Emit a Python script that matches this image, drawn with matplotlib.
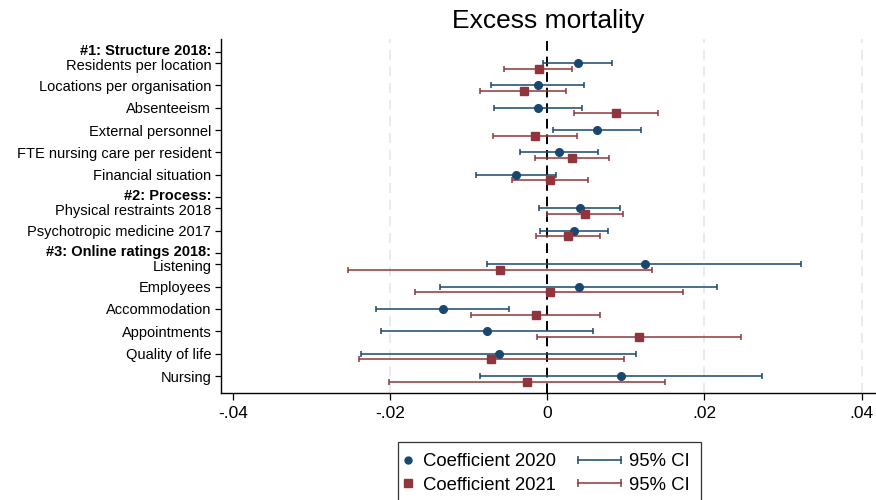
import numpy as np
import matplotlib; matplotlib.use("Agg")
import matplotlib.pyplot as plt
from matplotlib.lines import Line2D
from matplotlib.legend_handler import HandlerLine2D, HandlerBase
from matplotlib.transforms import ScaledTranslation

plt.rcParams["font.family"] = ["Liberation Sans", "DejaVu Sans"]

# --- data ---
GROUPS = ["#1: Structure 2018:", "#2: Process:", "#3: Online ratings 2018:"]
LABELS = [
    ["Residents per location", "Locations per organisation", "Absenteeism",
     "External personnel", "FTE nursing care per resident", "Financial situation"],
    ["Physical restraints 2018", "Psychotropic medicine 2017"],
    ["Listening", "Employees", "Accommodation", "Appointments", "Quality of life", "Nursing"],
]
coef20 = [0.0039, -0.0012, -0.0012, 0.0063, 0.0015, -0.0040,
          0.0042, 0.0034,
          0.0124, 0.0040, -0.0133, -0.0076, -0.0062, 0.0094]
lo20 = [-0.0005, -0.0071, -0.0068, 0.0007, -0.0035, -0.0091,
        -0.0010, -0.0009,
        -0.0076, -0.0136, -0.0218, -0.0211, -0.0237, -0.0085]
hi20 = [0.0083, 0.0047, 0.0044, 0.0119, 0.0065, 0.0011,
        0.0093, 0.0077,
        0.0323, 0.0216, -0.0049, 0.0058, 0.0113, 0.0273]
coef21 = [-0.0011, -0.0030, 0.0088, -0.0015, 0.0032, 0.0004,
          0.0048, 0.0027,
          -0.0060, 0.0003, -0.0014, 0.0117, -0.0071, -0.0026]
lo21 = [-0.0055, -0.0085, 0.0034, -0.0069, -0.0015, -0.0045,
        0.0000, -0.0014,
        -0.0253, -0.0168, -0.0097, -0.0013, -0.0240, -0.0201]
hi21 = [0.0031, 0.0024, 0.0141, 0.0038, 0.0079, 0.0052,
        0.0097, 0.0067,
        0.0133, 0.0173, 0.0067, 0.0247, 0.0098, 0.0150]

BLUE = "#1a476f"; RED = "#90353b"


class CIHandler(HandlerBase):
    """capped horizontal line, stretched to the left of the handle box"""
    def __init__(self, ext=2.0, **kw):
        super().__init__(**kw); self.ext = ext

    def create_artists(self, legend, orig, xd, yd, width, height, fontsize, trans):
        y = height / 2 - yd
        x0, x1 = -xd - self.ext * fontsize, width - xd
        c = orig.get_color()
        ln = Line2D([x0, x1], [y, y], color=c, lw=1.1)
        cp = Line2D([x0, x1], [y, y], color=c, ls="none", marker="|", ms=6, mew=1.1)
        for a in (ln, cp): a.set_transform(trans)
        return [ln, cp]


# row layout: header, then items half a row below, next header one row after last item
ypos, yticks, ylabels, ykind = [], [], [], []
cur = 0.5
for g, labs in zip(GROUPS, LABELS):
    yticks.append(cur); ylabels.append(g); ykind.append("head")
    p = cur + 0.5
    for i, lab in enumerate(labs):
        ypos.append(p); yticks.append(p); ylabels.append(lab)
        ykind.append("first" if i == 0 else "item")
        p += 1
    cur = p
ypos = np.array(ypos)

fig = plt.figure(figsize=(8.76, 5.0), dpi=100)
ax = fig.add_axes([0.2523, 0.214, 0.7466, 0.708])
ax.tick_params(axis="y", length=4, width=0.9, pad=3)
ax.tick_params(axis="x", length=5, width=0.9, pad=4)

for gx in (-0.02, 0.02, 0.04):
    ax.axvline(gx, color="#e6e6e6", lw=1.2, ls=(0, (6, 4)), zorder=0)
ax.axvline(0, color="black", lw=1.4, ls=(0, (5, 3)), zorder=1)

c20, c21 = np.array(coef20), np.array(coef21)
ax.errorbar(c20, ypos, xerr=[c20 - np.array(lo20), np.array(hi20) - c20], fmt="none",
            ecolor=BLUE, elinewidth=1.1, capsize=2.2, capthick=1.1, zorder=2)
ax.errorbar(c21, ypos + 0.25, xerr=[c21 - np.array(lo21), np.array(hi21) - c21], fmt="none",
            ecolor=RED, elinewidth=1.1, capsize=2.2, capthick=1.1, zorder=2)
ax.plot(c20, ypos, "o", color=BLUE, ms=5.5, zorder=3)
ax.plot(c21, ypos + 0.25, "s", color=RED, ms=5.5, zorder=3)

ax.set_xlim(-0.0415, 0.0417)
ax.set_ylim(15.76, -0.07)
ax.set_xticks([-0.04, -0.02, 0, 0.02, 0.04])
ax.set_xticklabels(["-.04", "-.02", "0", ".02", ".04"], fontsize=12.5)
ax.set_yticks(yticks)
ax.set_yticklabels(ylabels, fontsize=10.5)
shift = {"head": 1.6, "first": -1.2, "item": 0}
for t, k in zip(ax.get_yticklabels(), ykind):
    if k == "head":
        t.set_fontweight("bold")
    if shift[k]:
        t.set_transform(t.get_transform() + ScaledTranslation(0, shift[k] / 72, fig.dpi_scale_trans))
for s in ("top", "right"):
    ax.spines[s].set_visible(False)
for s in ("left", "bottom"):
    ax.spines[s].set_linewidth(1.0)

fig.text(0.6256, 0.958, "Excess mortality", ha="center", va="center", fontsize=19)

h_b = Line2D([], [], color=BLUE, marker="o", ls="none", ms=5)
h_r = Line2D([], [], color=RED, marker="s", ls="none", ms=5.5)
h_cb = Line2D([], [], color=BLUE)
h_cr = Line2D([], [], color=RED)
leg = fig.legend([h_b, h_r, h_cb, h_cr],
                 ["Coefficient 2020", "Coefficient 2021", "95% CI", "95% CI"],
                 ncol=2, loc="upper left", bbox_to_anchor=(0.4543, 0.116), borderaxespad=0,
                 fontsize=13.3, frameon=True, fancybox=False, edgecolor="black",
                 handlelength=0.3, columnspacing=3.2, handletextpad=0.45,
                 borderpad=0.62, labelspacing=0.35,
                 handler_map={h_b: HandlerLine2D(numpoints=1, xpad=-0.43),
                              h_r: HandlerLine2D(numpoints=1, xpad=-0.43),
                              h_cb: CIHandler(ext=2.05), h_cr: CIHandler(ext=2.05)})
leg.get_frame().set_linewidth(0.9)

fig.savefig("out.png", dpi=100)
